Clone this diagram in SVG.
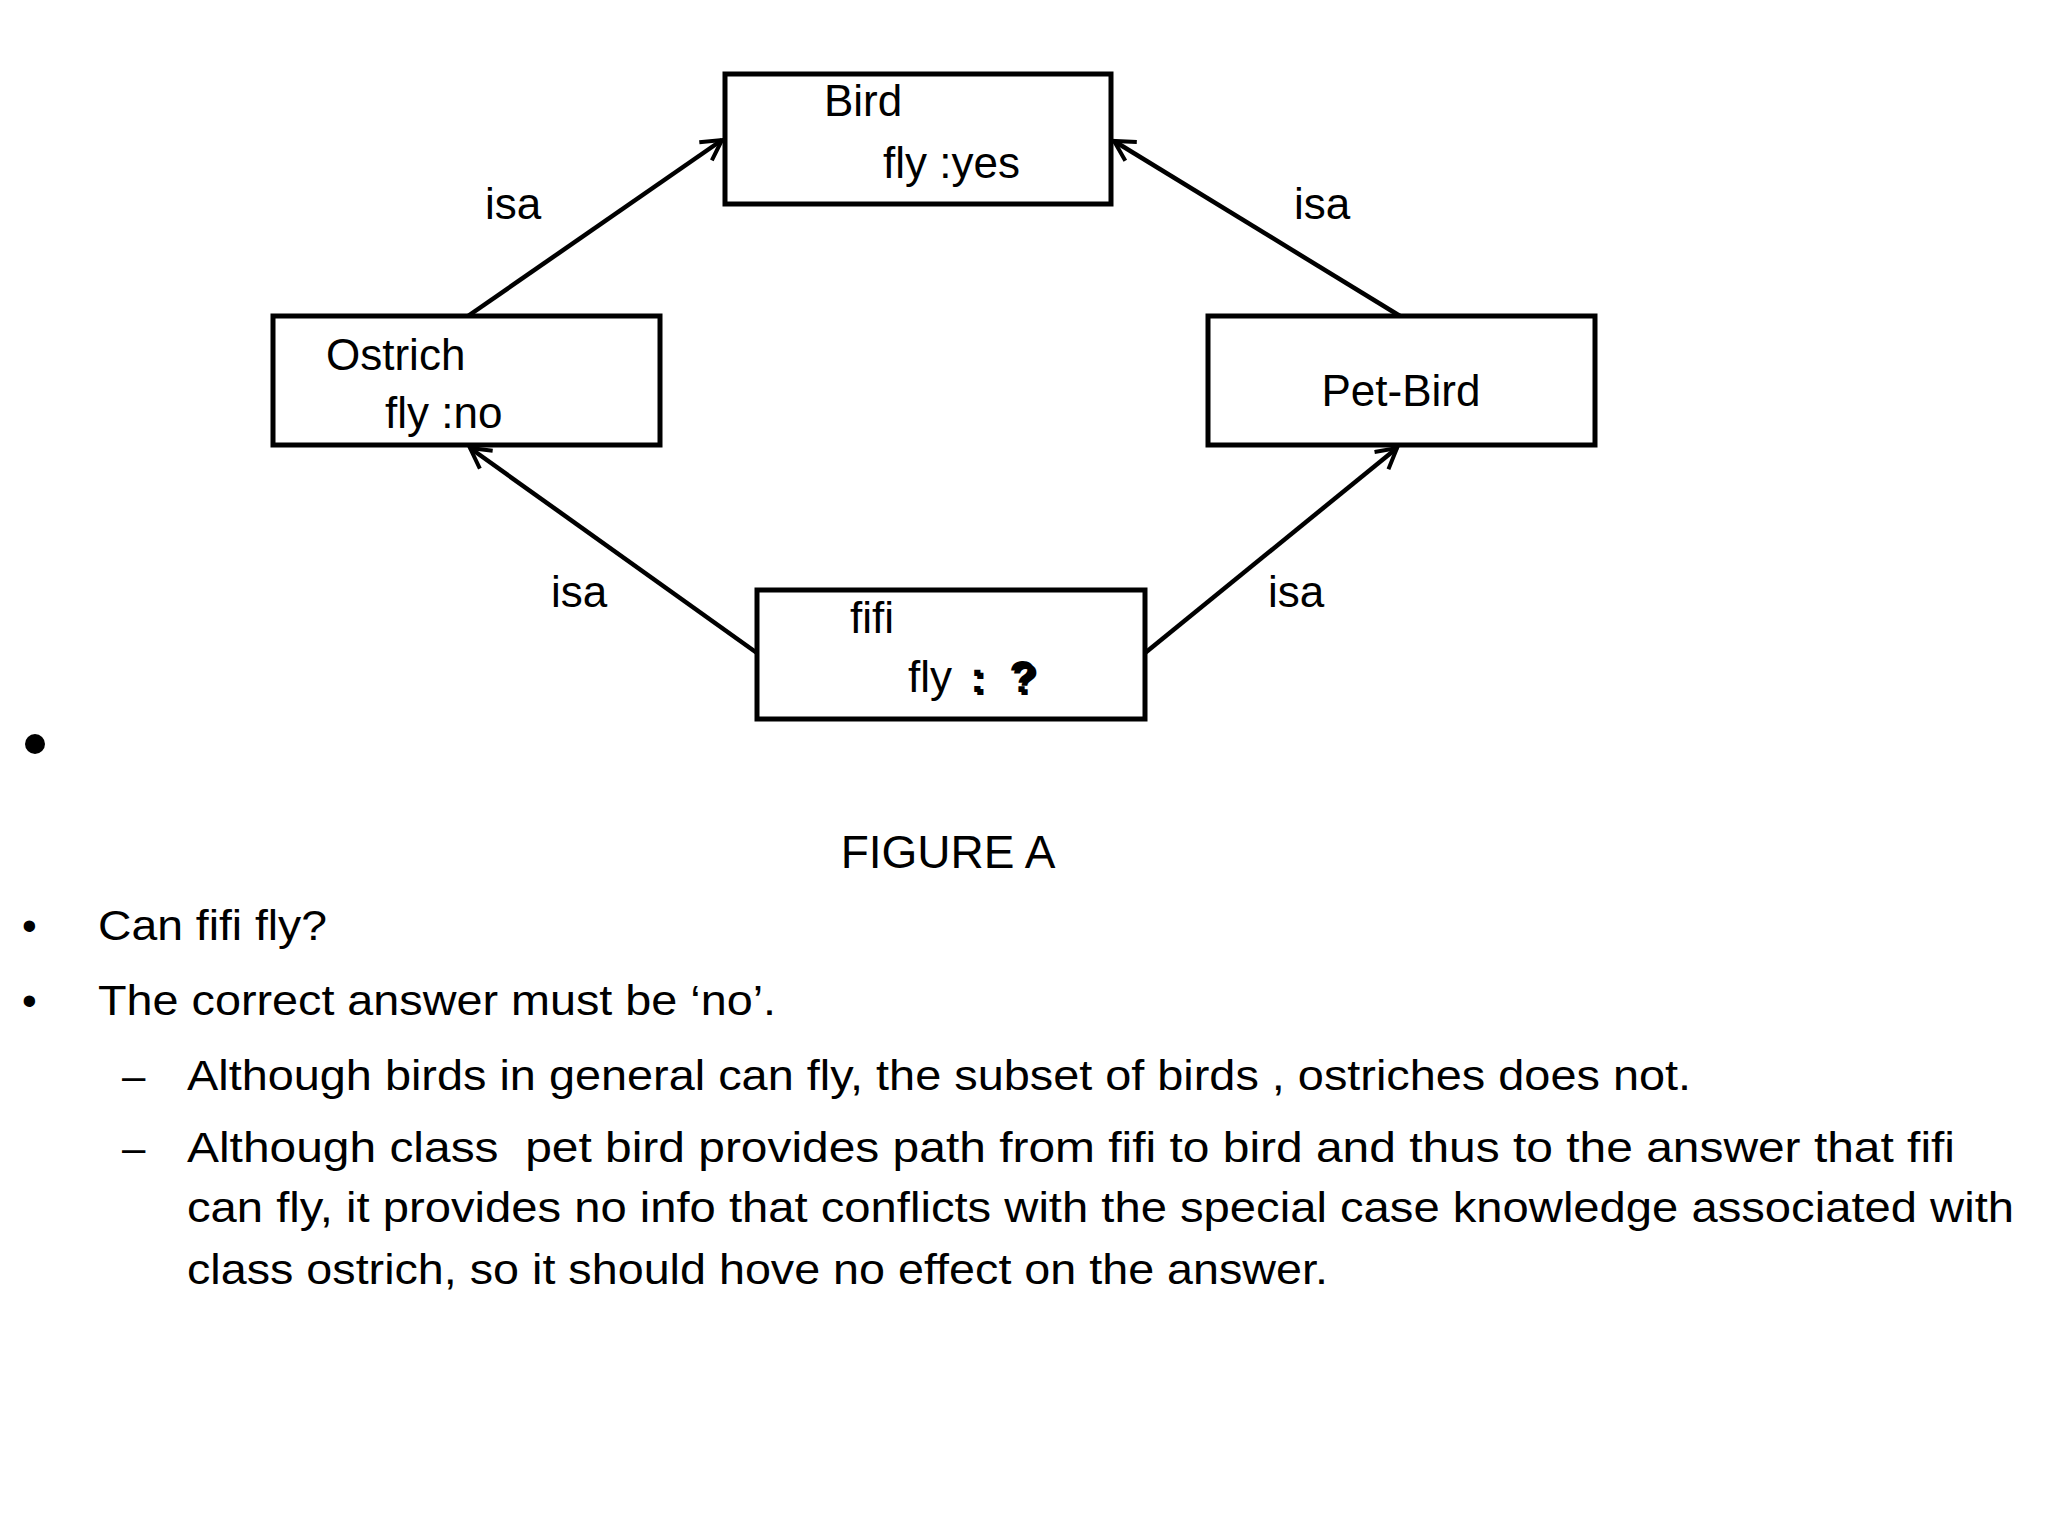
<svg xmlns="http://www.w3.org/2000/svg" width="2048" height="1536" viewBox="0 0 2048 1536">
<style>
text{font-family:"Liberation Sans",Arial,sans-serif;fill:#000}
.n{font-size:44px}
.b{font-size:42px}
.box{fill:#fff;stroke:#000;stroke-width:5}
.c line{stroke:#000;stroke-width:4.5}
</style>
<defs>
<marker id="h" markerWidth="26" markerHeight="26" refX="22" refY="13" orient="auto" markerUnits="userSpaceOnUse"><path d="M2,2 L22,13 L2,24" fill="none" stroke="#000" stroke-width="4"/></marker></defs>
<rect width="2048" height="1536" fill="#fff"/>
<g class="c" id="connectors">
<line x1="468" y1="316" x2="722" y2="140" marker-end="url(#h)"/>
<line x1="1400" y1="316" x2="1114" y2="141" marker-end="url(#h)"/>
<line x1="757" y1="653" x2="470" y2="448" marker-end="url(#h)"/>
<line x1="1145" y1="653" x2="1397" y2="448" marker-end="url(#h)"/>
<text class="n" x="513" y="219" text-anchor="middle">isa</text>
<text class="n" x="1322" y="219" text-anchor="middle">isa</text>
<text class="n" x="579" y="607" text-anchor="middle">isa</text>
<text class="n" x="1296" y="607" text-anchor="middle">isa</text>
</g>
<g id="bird"><rect class="box" x="725" y="74" width="386" height="130"/>
<text class="n" x="824" y="116">Bird</text><text class="n" x="883" y="178">fly :yes</text></g>
<g id="ostrich"><rect class="box" x="273" y="316" width="387" height="129"/>
<text class="n" x="326" y="370">Ostrich</text><text class="n" x="385" y="428">fly :no</text></g>
<g id="petbird"><rect class="box" x="1208" y="316" width="387" height="129"/>
<text class="n" x="1401" y="406" text-anchor="middle">Pet-Bird</text></g>
<g id="fifi"><rect class="box" x="757" y="590" width="388" height="129"/>
<text class="n" x="850" y="633">fifi</text>
<text class="n" x="908" y="692">fly</text>
<text class="n" x="973" y="695" font-weight="bold" fill="#999" xml:space="preserve">:  ?</text>
<text class="n" x="970" y="692" font-weight="bold" xml:space="preserve">:  ?</text></g>
<circle cx="35" cy="744" r="10" fill="#000"/>
<text x="948" y="868" font-size="46" text-anchor="middle">FIGURE A</text>
<text class="b" x="22" y="940">•</text><text class="b" x="98" y="940" textLength="229" lengthAdjust="spacingAndGlyphs">Can fifi fly?</text>
<text class="b" x="22" y="1015">•</text><text class="b" x="98" y="1015" textLength="678" lengthAdjust="spacingAndGlyphs">The correct answer must be ‘no’.</text>
<text class="b" x="122" y="1090">–</text><text class="b" x="187" y="1090" textLength="1504" lengthAdjust="spacingAndGlyphs">Although birds in general can fly, the subset of birds , ostriches does not.</text>
<text class="b" x="122" y="1162">–</text><text class="b" x="187" y="1162" textLength="1768" lengthAdjust="spacingAndGlyphs" xml:space="preserve">Although class  pet bird provides path from fifi to bird and thus to the answer that fifi</text>
<text class="b" x="187" y="1222" textLength="1827" lengthAdjust="spacingAndGlyphs">can fly, it provides no info that conflicts with the special case knowledge associated with</text>
<text class="b" x="187" y="1284" textLength="1141" lengthAdjust="spacingAndGlyphs">class ostrich, so it should hove no effect on the answer.</text>
</svg>
